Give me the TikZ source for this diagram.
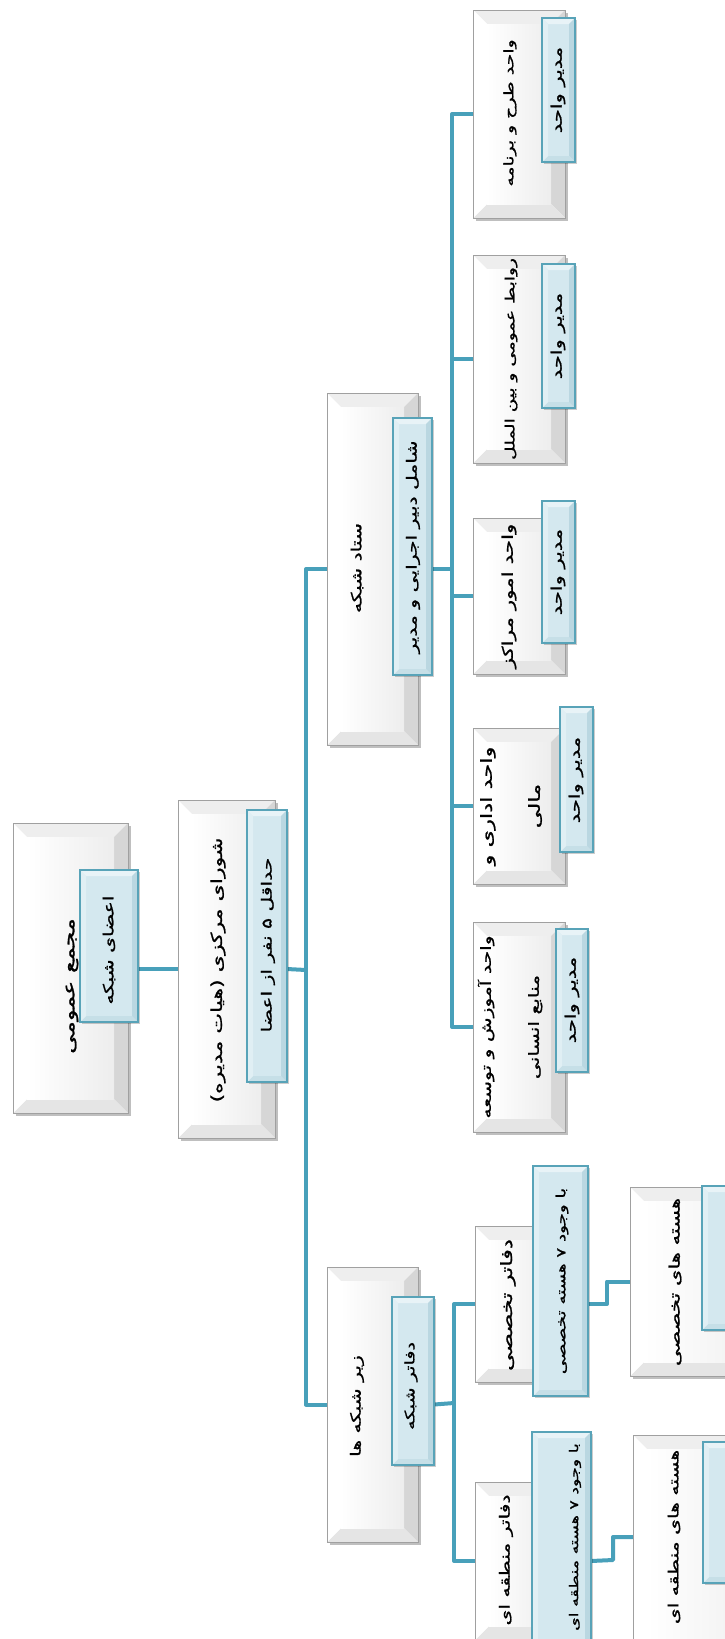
\documentclass[tikz,border=0pt]{standalone}
\usepackage{fontspec}
\usepackage{graphicx}
\newfontfamily\fa[Script=Arabic,FakeStretch=1.45,FakeBold=1.2]{DejaVu Sans}
\TeXXeTstate=1
\usetikzlibrary{shadows,fit,backgrounds}

\definecolor{conn}{RGB}{72,160,186}
\definecolor{wline}{RGB}{160,160,160}
\definecolor{bline}{RGB}{88,163,184}
\definecolor{bfill}{RGB}{212,232,239}
\definecolor{btop}{RGB}{232,243,247}
\definecolor{bright}{RGB}{186,215,225}
\definecolor{bbot}{RGB}{198,223,231}
\definecolor{bleft}{RGB}{224,239,244}

\newcommand\rl[1]{\beginR #1\endR}

% four bevel faces inside the current path picture
\newcommand\bevelfaces[5]{%
  \coordinate (bvNW) at (path picture bounding box.north west);
  \coordinate (bvNE) at (path picture bounding box.north east);
  \coordinate (bvSE) at (path picture bounding box.south east);
  \coordinate (bvSW) at (path picture bounding box.south west);
  \coordinate (bvnw) at ([shift={(#1,-#1)}]bvNW);
  \coordinate (bvne) at ([shift={(-#1,-#1)}]bvNE);
  \coordinate (bvse) at ([shift={(-#1,#1)}]bvSE);
  \coordinate (bvsw) at ([shift={(#1,#1)}]bvSW);
  \fill[#2] (bvNW) -- (bvNE) -- (bvne) -- (bvnw) -- cycle;
  \fill[#3] (bvNE) -- (bvSE) -- (bvse) -- (bvne) -- cycle;
  \fill[#4] (bvSE) -- (bvSW) -- (bvsw) -- (bvse) -- cycle;
  \fill[#5] (bvSW) -- (bvNW) -- (bvnw) -- (bvsw) -- cycle;
}

\tikzset{
  wbox/.style={draw=wline, line width=0.9pt, fill=white, inner sep=0pt, outer sep=0pt,
    drop shadow={shadow xshift=2.5pt, shadow yshift=-2.5pt, fill=black, opacity=0.25},
    path picture={
      \bevelfaces{14pt}{gray!13}{gray!32}{gray!20}{white}
      \shade[left color=white, right color=gray!14] (bvnw) rectangle (bvse);
    }},
  bbox/.style={draw=bline, line width=1.3pt, fill=bfill, inner sep=0pt, outer sep=0pt,
    drop shadow={shadow xshift=1.5pt, shadow yshift=-1.5pt, fill=black, opacity=0.2},
    path picture={
      \bevelfaces{6pt}{btop}{bright}{bbot}{bleft}
    }},
  lbl/.style={rotate=90, inner sep=0pt, text=black, font=\fa\fontsize{14}{17}\selectfont},
  fs/.style={font=\fa\fontsize{#1}{17}\selectfont},
  lbltwo/.style={lbl, align=center, font=\fa\fontsize{14}{48}\selectfont},
  fstwo/.style={font=\fa\fontsize{#1}{48}\selectfont},
  link/.style={draw=conn, line width=4pt, line join=round},
}

\begin{document}
\begin{tikzpicture}[x=1pt, y=-1pt]
  \useasboundingbox (0,0) rectangle (725,1639);
  \clip (0,0) rectangle (725,1639);

  % ---------- boxes ----------
  % general assembly
  \node[wbox, fit={(13,823) (128,1113)}] (root) {};
  \node[bbox, fit={(80,870) (138,1022)}] (rootb) {};
  % central council
  \node[wbox, fit={(178,800) (275,1138)}] (council) {};
  \node[bbox, fit={(247,810) (287,1082)}] (councilb) {};
  % network staff
  \node[wbox, fit={(327,393) (418,745)}] (staff) {};
  \node[bbox, fit={(393,418) (432,675)}] (staffb) {};
  % sub-networks
  \node[wbox, fit={(327,1267) (418,1542)}] (sub) {};
  \node[bbox, fit={(392,1297) (434,1465)}] (subb) {};

  % staff units
  \node[wbox, fit={(473,10) (565,218)}] (u1) {};
  \node[bbox, fit={(542,18) (575,162)}] (u1b) {};
  \node[wbox, fit={(473,255) (565,463)}] (u2) {};
  \node[bbox, fit={(542,264) (575,408)}] (u2b) {};
  \node[wbox, fit={(473,518) (565,674)}] (u3) {};
  \node[bbox, fit={(542,501) (575,643)}] (u3b) {};
  \node[wbox, fit={(473,728) (565,884)}] (u4) {};
  \node[bbox, fit={(560,707) (593,852)}] (u4b) {};
  \node[wbox, fit={(473,922) (565,1132)}] (u5) {};
  \node[bbox, fit={(556,929) (588,1072)}] (u5b) {};

  % offices
  \node[wbox, fit={(475,1226) (565,1382)}] (o1) {};
  \node[bbox, fit={(533,1166) (588,1396)}] (o1b) {};
  \node[wbox, fit={(475,1482) (565,1640)}] (o2) {};
  \node[bbox, fit={(532,1432) (591,1645)}] (o2b) {};

  % cores
  \node[wbox, fit={(630,1187) (790,1376)}] (h1) {};
  \node[bbox, fit={(702,1186) (770,1330)}] (h1b) {};
  \node[wbox, fit={(633,1435) (790,1700)}] (h2) {};
  \node[bbox, fit={(703,1442) (770,1583)}] (h2b) {};

  % ---------- connectors ----------
  \coordinate (sp) at (306,970);
  \coordinate (sp2) at (452,569);
  \coordinate (sp3) at (454,1403);
  \coordinate (m1) at (607,1304);
  \coordinate (m2) at (613,1560);
  \coordinate (k2) at (613,1537);
  \begin{scope}[on background layer]
    \fill[white] (0,0) rectangle (725,1639);
    \draw[link] (council.west -| rootb.east) -- (council.west);
    \draw[link] (council.center -| councilb.east) -- (sp);
    \draw[link] (staff.west) -| (sp) |- (sub.west);
    \draw[link] (staff.center -| staffb.east) -- (sp2);
    \draw[link] (u1.west) -| (sp2) |- (u5.west);
    \draw[link] (u2.west) -- (u2.west -| sp2);
    \draw[link] (u3.west) -- (u3.west -| sp2);
    \draw[link] (u4.west) -- (u4.west -| sp2);
    \draw[link] (sub.center -| subb.east) -- (sp3);
    \draw[link] (o1.west) -| (sp3) |- (o2.west);
    \draw[link] (o1.center -| o1b.east) -- (m1) |- (h1.west);
    \draw[link] (o2.center -| o2b.east) -- (m2) -- (k2) -- (k2 -| h2.west);
  \end{scope}

  % ---------- texts ----------
  \node[lbl, fs=16.5] (t-root) at (72,986) {\rl{مجمع عمومی}};
  \node[lbl] (t-rootb) at (109,950) {\rl{اعضای شبکه}};
  \node[lbl, fs=15.2] (t-council) at (218,970) {\rl{شورای مرکزی (هیات مدیره)}};
  \node[lbl] (t-councilb) at (268,945) {\rl{حداقل ۵ نفر از اعضا}};
  \node[lbl] (t-staff) at (357,568) {\rl{ستاد شبکه}};
  \node[lbl] (t-staffb) at (413,547) {\rl{شامل دبیر اجرایی و مدیر}};
  \node[lbl] (t-sub) at (357,1406) {\rl{زیر شبکه ها}};
  \node[lbl, fs=13.2] (t-subb) at (411,1386) {\rl{دفاتر شبکه}};

  \node[lbl, fs=13] (t-u1) at (510,113) {\rl{واحد طرح و برنامه}};
  \node[lbl, fs=14.5] (t-u1b) at (558,90) {\rl{مدیر واحد}};
  \node[lbl, fs=12.8] (t-u2) at (511,359) {\rl{روابط عمومی و بین الملل}};
  \node[lbl, fs=14.5] (t-u2b) at (558,336) {\rl{مدیر واحد}};
  \node[lbl, fs=14.8] (t-u3) at (509,596) {\rl{واحد امور مراکز}};
  \node[lbl, fs=14.5] (t-u3b) at (558,572) {\rl{مدیر واحد}};
  \node[lbltwo, fstwo=15.5] (t-u4) at (511,806) {\rl{واحد اداری و}\\\rl{مالی}};
  \node[lbl, fs=14.5] (t-u4b) at (576,780) {\rl{مدیر واحد}};
  \node[lbltwo] (t-u5) at (510,1027) {\rl{واحد آموزش و توسعه}\\\rl{منابع انسانی}};
  \node[lbl, fs=14.5] (t-u5b) at (572,1000) {\rl{مدیر واحد}};

  \node[lbl, fs=15.5] (t-o1) at (508,1305) {\rl{دفاتر تخصصی}};
  \node[lbl, fs=12.6] (t-o1b) at (562,1281) {\rl{با وجود ۷ هسته تخصصی}};
  \node[lbl, fs=14.5] (t-h1) at (675,1282) {\rl{هسته های تخصصی}};
  \node[lbl] (t-o2) at (506,1560) {\rl{دفاتر منطقه ای}};
  \node[lbl, fs=12] (t-o2b) at (575,1537) {\rl{با وجود ۷ هسته منطقه ای}};
  \node[lbl] (t-h2) at (674,1537) {\rl{هسته های منطقه ای}};
\end{tikzpicture}
\end{document}
